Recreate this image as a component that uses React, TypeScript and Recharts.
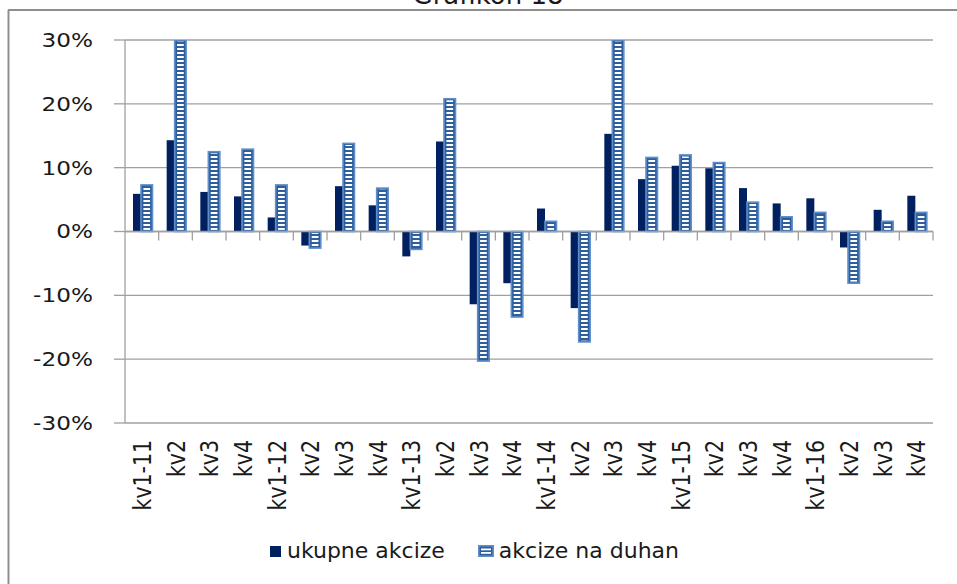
import React from 'react';
import { BarChart, Bar, XAxis, YAxis, CartesianGrid, ReferenceLine, Legend } from 'recharts';

const periods = [
  '2011Q1', '2011Q2', '2011Q3', '2011Q4',
  '2012Q1', '2012Q2', '2012Q3', '2012Q4',
  '2013Q1', '2013Q2', '2013Q3', '2013Q4',
  '2014Q1', '2014Q2', '2014Q3', '2014Q4',
  '2015Q1', '2015Q2', '2015Q3', '2015Q4',
  '2016Q1', '2016Q2', '2016Q3', '2016Q4',
];
const tickLabels = [
  'kv1-11', 'kv2', 'kv3', 'kv4',
  'kv1-12', 'kv2', 'kv3', 'kv4',
  'kv1-13', 'kv2', 'kv3', 'kv4',
  'kv1-14', 'kv2', 'kv3', 'kv4',
  'kv1-15', 'kv2', 'kv3', 'kv4',
  'kv1-16', 'kv2', 'kv3', 'kv4',
];
const ukupneAkcize = [
  5.9, 14.3, 6.2, 5.5,
  2.2, -2.2, 7.1, 4.1,
  -3.9, 14.1, -11.4, -8.1,
  3.6, -12.0, 15.3, 8.2,
  10.3, 9.9, 6.8, 4.4,
  5.2, -2.5, 3.4, 5.6,
];
const akcizeNaDuhan = [
  7.3, 30, 12.5, 12.9,
  7.3, -2.6, 13.8, 6.8,
  -2.8, 20.8, -20.3, -13.4,
  1.6, -17.3, 30, 11.6,
  12.0, 10.8, 4.6, 2.3,
  3.0, -8.1, 1.6, 3.0,
];
const yTicks = [-30, -20, -10, 0, 10, 20, 30];
const seriesKeys = ['ukupne', 'duhan'];
const seriesNames = ['ukupne akcize', 'akcize na duhan'];

const data = periods.map((p, i) => ({
  period: p,
  label: tickLabels[i],
  ukupne: ukupneAkcize[i],
  duhan: akcizeNaDuhan[i],
}));
const labelByPeriod: Record<string, string> = {};
periods.forEach((p, i) => { labelByPeriod[p] = tickLabels[i]; });

const NAVY = '#002060';
const BLUE_BORDER = '#5f8fcb';
const BLUE_FILL = '#2f5e9c';
const GRID = '#a0a0a0';
const TEXT = '#1a1a1a';
const FONT = 'DejaVu Sans, Verdana, sans-serif';

const DarkBar = (props: any) => {
  const { x, y, width, height } = props;
  if (x == null || y == null) return null;
  const top = Math.min(y, y + height);
  const h = Math.abs(height);
  return <rect x={x + 1} y={top} width={Math.max(width - 2, 1)} height={h} fill={NAVY} />;
};

const StripedBar = (props: any) => {
  const { x, y, width, height } = props;
  if (x == null || y == null) return null;
  const top = Math.min(y, y + height);
  const h = Math.abs(height);
  const bx = x - 1;
  const bw = width + 1.5;
  return (
    <g>
      <rect x={bx} y={top} width={bw} height={h} fill={BLUE_FILL} stroke={BLUE_BORDER} strokeWidth={1.6} />
      {h > 3 && (
        <rect x={bx + 2.4} y={top + 1.6} width={Math.max(bw - 4.8, 1)} height={h - 3.2} fill="url(#duhanStripes)" />
      )}
    </g>
  );
};

const YTick = (props: any) => {
  const { x, y, payload } = props;
  return (
    <text
      transform={`translate(${x},${y}) scale(1.22,1)`}
      textAnchor="end"
      dy="0.36em"
      fontSize={19}
      fontFamily={FONT}
      fill={TEXT}
    >
      {`${payload.value}%`}
    </text>
  );
};

const XTick = (props: any) => {
  const { x, y, payload } = props;
  return (
    <text
      transform={`translate(${x},${y}) scale(1.25,1) rotate(-90)`}
      textAnchor="end"
      dy="0.36em"
      fontSize={20.5}
      fontFamily={FONT}
      fill={TEXT}
    >
      {labelByPeriod[payload.value]}
    </text>
  );
};

const renderLegend = (props: any) => {
  const raw = props.payload || [];
  const payload = seriesKeys
    .map((k) => raw.find((it: any) => it.dataKey === k))
    .filter(Boolean);
  return (
    <div
      style={{
        display: 'flex',
        justifyContent: 'center',
        alignItems: 'flex-start',
        height: 48,
        boxSizing: 'border-box',
        paddingTop: 2,
        fontFamily: FONT,
        fontSize: 22,
        color: TEXT,
        paddingRight: 8,
      }}
    >
      {payload.map((item: any, i: number) => (
        <div key={i} style={{ display: 'flex', alignItems: 'center', marginLeft: i === 0 ? 0 : 33, height: 26 }}>
          {item.dataKey === 'duhan' ? (
            <svg width={16} height={12} style={{ marginRight: 5 }}>
              <rect x={0.8} y={0.8} width={14.4} height={10.4} fill={BLUE_FILL} stroke={BLUE_BORDER} strokeWidth={1.6} />
              <rect x={3} y={3.5} width={10} height={1.8} fill="#ffffff" />
              <rect x={3} y={7} width={10} height={1.8} fill="#ffffff" />
            </svg>
          ) : (
            <svg width={11} height={11} style={{ marginRight: 6 }}>
              <rect x={0} y={0} width={11} height={11} fill={NAVY} />
            </svg>
          )}
          <span style={{ lineHeight: '26px' }}>{item.value}</span>
        </div>
      ))}
    </div>
  );
};

export default function App() {
  return (
    <div style={{ position: 'fixed', left: 0, top: 0, width: 957, height: 584, background: '#fff', overflow: 'hidden' }}>
      <svg width={957} height={584} style={{ position: 'absolute', left: 0, top: 0 }}>
        <text x={488} y={4} textAnchor="middle" fontSize={26} fontFamily={FONT} fill={TEXT}>
          Grafikon 18
        </text>
        <line x1={8} y1={10} x2={957} y2={10} stroke="#8f8f8f" strokeWidth={2} />
        <line x1={8.5} y1={10} x2={8.5} y2={584} stroke="#8f8f8f" strokeWidth={2} />
      </svg>
      <div style={{ position: 'absolute', left: 0, top: 0 }}>
        <BarChart
          width={957}
          height={584}
          data={data}
          margin={{ top: 40, right: 24, left: 9, bottom: 0 }}
          barGap={0}
        >
          <defs>
            <pattern id="duhanStripes" patternUnits="userSpaceOnUse" width={4} height={4}>
              <rect x={0} y={0} width={4} height={4} fill={BLUE_FILL} />
              <rect x={0} y={0} width={4} height={2} fill="#ffffff" />
            </pattern>
          </defs>
          <CartesianGrid vertical={false} stroke={GRID} strokeWidth={1.3} />
          <XAxis
            dataKey="period"
            type="category"
            interval={0}
            height={113}
            axisLine={false}
            tickLine={false}
            tickSize={6}
            tickMargin={11}
            tick={<XTick />}
          />
          <YAxis
            type="number"
            domain={[-30, 30]}
            ticks={yTicks}
            allowDataOverflow
            width={116}
            axisLine={{ stroke: GRID, strokeWidth: 1.3 }}
            tickLine={{ stroke: GRID, strokeWidth: 1.3 }}
            tickSize={11}
            tickMargin={21}
            tick={<YTick />}
          />
          <ReferenceLine y={0} stroke={GRID} strokeWidth={1.3} ifOverflow="extendDomain" />
          {periods.slice(1).map((p) => (
            <ReferenceLine
              key={`t-${p}`}
              segment={[{ x: p, y: 0 }, { x: p, y: -1.4 }]}
              position="start"
              stroke={GRID}
              strokeWidth={1.3}
            />
          ))}
          <ReferenceLine
            segment={[{ x: periods[periods.length - 1], y: 0 }, { x: periods[periods.length - 1], y: -1.4 }]}
            position="end"
            stroke={GRID}
            strokeWidth={1.3}
          />
          <Legend
            verticalAlign="bottom"
            align="center"
            content={renderLegend}
            wrapperStyle={{ left: 0, width: 957, height: 48 }}
          />
          <Bar dataKey="ukupne" name={seriesNames[0]} fill={NAVY} barSize={10} shape={DarkBar} isAnimationActive={false} />
          <Bar dataKey="duhan" name={seriesNames[1]} fill={BLUE_FILL} barSize={10} shape={StripedBar} isAnimationActive={false} />
        </BarChart>
      </div>
    </div>
  );
}
